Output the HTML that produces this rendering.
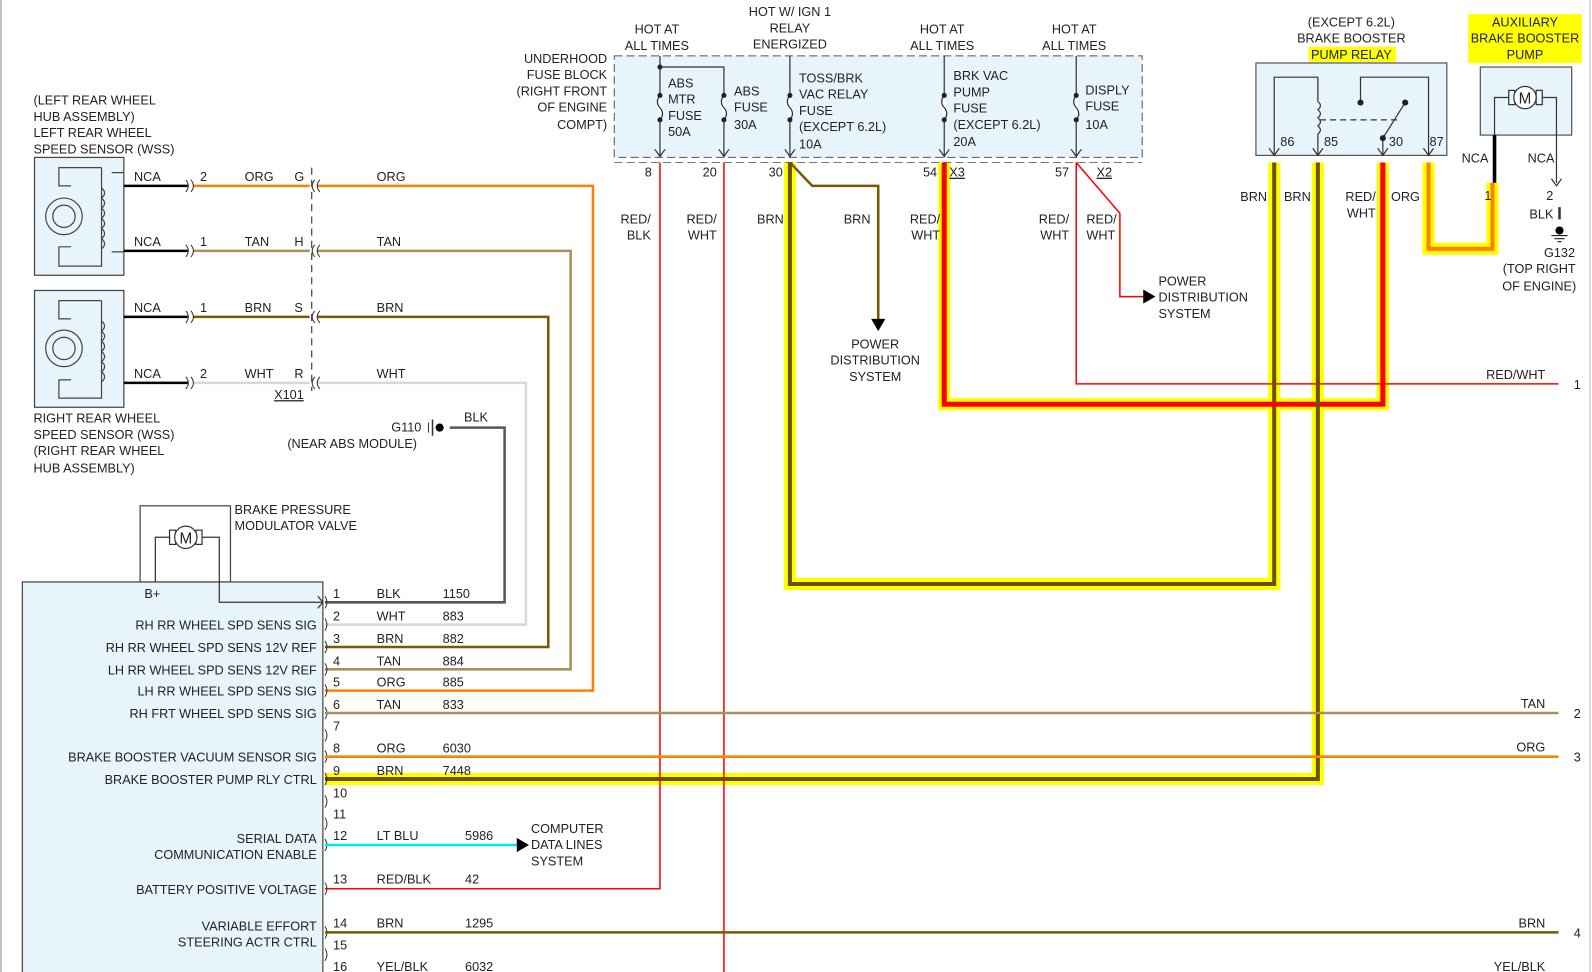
<!DOCTYPE html>
<html><head><meta charset="utf-8"><style>
html,body{margin:0;padding:0;background:#fff;}
svg{display:block;}
text{font-family:"Liberation Sans",sans-serif;font-size:12.5px;fill:#222;}
.r{text-anchor:end}.m{text-anchor:middle}
</style></head><body>
<svg width="1592" height="972" viewBox="0 0 1568 957" preserveAspectRatio="none" xmlns="http://www.w3.org/2000/svg">
<line x1="1" y1="0" x2="1" y2="957" stroke="#888" stroke-width="1"/>
<line x1="1566" y1="0" x2="1566" y2="957" stroke="#bbb" stroke-width="1"/>

<!-- yellow highlights -->
<g fill="none" stroke="#ffff00" stroke-width="12" stroke-linejoin="miter">
<polyline points="778,160 778,575 1255,575 1255,160"/>
<polyline points="930,160 930,398 1362,398 1362,160"/>
<polyline points="320,767 1298,767 1298,160"/>
<polyline points="1407,160 1407,245 1470,245 1470,180"/>
</g>
<rect x="1446" y="14" width="112" height="48" fill="#ffff00"/>
<rect x="1289" y="46" width="86" height="15" fill="#ffff00"/>

<!-- fuse block -->
<rect x="605" y="55" width="520" height="100" fill="#e8f4fc" stroke="#555" stroke-dasharray="8,4"/>
<line x1="605" y1="160" x2="1125" y2="160" stroke="#777" stroke-dasharray="8,4"/>
<g stroke="#333" fill="none" stroke-width="1.2">
<line x1="650" y1="55" x2="650" y2="155"/><polyline points="650,66 713,66 713,155"/>
<line x1="778" y1="55" x2="778" y2="155"/><line x1="930" y1="55" x2="930" y2="155"/><line x1="1060" y1="55" x2="1060" y2="155"/>
<path d="M645,147 l5,7 l5,-7 M708,147 l5,7 l5,-7 M773,147 l5,7 l5,-7 M925,147 l5,7 l5,-7 M1055,147 l5,7 l5,-7"/>
</g>
<g fill="#fff" stroke="#fff" stroke-width="3">
<line x1="650" y1="94" x2="650" y2="118"/><line x1="713" y1="94" x2="713" y2="118"/><line x1="778" y1="94" x2="778" y2="118"/><line x1="930" y1="94" x2="930" y2="118"/><line x1="1060" y1="94" x2="1060" y2="118"/>
</g>
<g stroke="#333" fill="none" stroke-width="1.2">
<path d="M650,94 q-5,6 0,12 q5,6 0,12 M713,94 q-5,6 0,12 q5,6 0,12 M778,94 q-5,6 0,12 q5,6 0,12 M930,94 q-5,6 0,12 q5,6 0,12 M1060,94 q-5,6 0,12 q5,6 0,12"/>
</g>
<g fill="#222"><circle cx="650" cy="66" r="2.5"/><circle cx="650" cy="94" r="2.5"/><circle cx="650" cy="118" r="2.5"/><circle cx="713" cy="94" r="2.5"/><circle cx="713" cy="118" r="2.5"/><circle cx="778" cy="94" r="2.5"/><circle cx="778" cy="118" r="2.5"/><circle cx="930" cy="94" r="2.5"/><circle cx="930" cy="118" r="2.5"/><circle cx="1060" cy="94" r="2.5"/><circle cx="1060" cy="118" r="2.5"/></g>
<text x="658" y="86">ABS</text><text x="658" y="102">MTR</text><text x="658" y="118">FUSE</text><text x="658" y="134">50A</text>
<text x="723" y="94">ABS</text><text x="723" y="110">FUSE</text><text x="723" y="127">30A</text>
<text x="787" y="81">TOSS/BRK</text><text x="787" y="97">VAC RELAY</text><text x="787" y="113">FUSE</text><text x="787" y="129">(EXCEPT 6.2L)</text><text x="787" y="146">10A</text>
<text x="939" y="79">BRK VAC</text><text x="939" y="95">PUMP</text><text x="939" y="111">FUSE</text><text x="939" y="127">(EXCEPT 6.2L)</text><text x="939" y="144">20A</text>
<text x="1069" y="93">DISPLY</text><text x="1069" y="109">FUSE</text><text x="1069" y="127">10A</text>
<text class="m" x="647" y="33">HOT AT</text><text class="m" x="647" y="49">ALL TIMES</text>
<text class="m" x="778" y="16">HOT W/ IGN 1</text><text class="m" x="778" y="32">RELAY</text><text class="m" x="778" y="48">ENERGIZED</text>
<text class="m" x="928" y="33">HOT AT</text><text class="m" x="928" y="49">ALL TIMES</text>
<text class="m" x="1058" y="33">HOT AT</text><text class="m" x="1058" y="49">ALL TIMES</text>
<text class="r" x="598" y="62">UNDERHOOD</text><text class="r" x="598" y="78">FUSE BLOCK</text><text class="r" x="598" y="94">(RIGHT FRONT</text><text class="r" x="598" y="110">OF ENGINE</text><text class="r" x="598" y="127">COMPT)</text>
<text class="r" x="642" y="174">8</text><text class="r" x="706" y="174">20</text><text class="r" x="771" y="174">30</text><text class="r" x="923" y="174">54</text><text x="935" y="174" text-decoration="underline">X3</text><text class="r" x="1053" y="174">57</text><text x="1080" y="174" text-decoration="underline">X2</text>

<!-- wires from fuses -->
<g fill="none" stroke-linejoin="miter">
<polyline points="650,160 650,875 320,875" stroke="#ff0000" stroke-width="1.5"/>
<line x1="713" y1="160" x2="713" y2="957" stroke="#ff0000" stroke-width="1.5"/>
<polyline points="778,160 800,183 865,183 865,315" stroke="#7a5a00" stroke-width="2.5"/>
<polyline points="1060,160 1103,210 1103,292 1128,292" stroke="#ff0000" stroke-width="1.5"/>
<polyline points="1060,160 1060,378 1535,378" stroke="#ff0000" stroke-width="1.5"/>
<polyline points="778,160 778,575 1255,575 1255,160" stroke="#6a5200" stroke-width="4"/>
<polyline points="930,160 930,398 1362,398 1362,160" stroke="#ff0000" stroke-width="5"/>
<polyline points="320,767 1298,767 1298,160" stroke="#6a5200" stroke-width="4"/>
<polyline points="1407,160 1407,245 1470,245 1470,180" stroke="#ff8000" stroke-width="4"/>
</g>
<polygon points="858,314 872,314 865,326" fill="#000"/>
<polygon points="1126,285 1138,292 1126,299" fill="#000"/>
<text class="m" x="862" y="343">POWER</text><text class="m" x="862" y="359">DISTRIBUTION</text><text class="m" x="862" y="375">SYSTEM</text>
<text x="1141" y="281">POWER</text><text x="1141" y="297">DISTRIBUTION</text><text x="1141" y="313">SYSTEM</text>
<text class="r" x="641" y="220">RED/</text><text class="r" x="641" y="236">BLK</text>
<text class="r" x="706" y="220">RED/</text><text class="r" x="706" y="236">WHT</text>
<text class="r" x="772" y="220">BRN</text><text x="831" y="220">BRN</text>
<text class="r" x="926" y="220">RED/</text><text class="r" x="926" y="236">WHT</text>
<text class="r" x="1053" y="220">RED/</text><text class="r" x="1053" y="236">WHT</text>
<text x="1070" y="220">RED/</text><text x="1070" y="236">WHT</text>
<text class="r" x="1522" y="373">RED/WHT</text><text x="1550" y="383">1</text>

<!-- relay -->
<text class="m" x="1331" y="26">(EXCEPT 6.2L)</text><text class="m" x="1331" y="42">BRAKE BOOSTER</text><text class="m" x="1331" y="58">PUMP RELAY</text>
<rect x="1237" y="62" width="188" height="91" fill="#e8f4fc" stroke="#555" stroke-width="1.2"/>
<g stroke="#333" fill="none" stroke-width="1.2">
<polyline points="1255,153 1255,76 1298,76 1298,100"/>
<path d="M1298,100 q5,4 0,8 q5,4 0,8 q5,4 0,8 q5,4 0,8 L1298,153"/>
<line x1="1300" y1="118" x2="1380" y2="118" stroke-dasharray="6,4"/>
<polyline points="1340,100 1340,76 1407,76 1407,153"/>
<line x1="1362" y1="136" x2="1384" y2="101"/><line x1="1362" y1="136" x2="1362" y2="153"/>
<path d="M1250,146 l5,7 l5,-7 M1293,146 l5,7 l5,-7 M1357,146 l5,7 l5,-7 M1402,146 l5,7 l5,-7"/>
</g>
<g fill="#222"><circle cx="1340" cy="101" r="3"/><circle cx="1384" cy="101" r="3"/><circle cx="1362" cy="136" r="3"/></g>
<text x="1261" y="144">86</text><text x="1304" y="144">85</text><text x="1368" y="144">30</text><text x="1408" y="144">87</text>
<text class="r" x="1248" y="198">BRN</text><text class="r" x="1291" y="198">BRN</text>
<text class="r" x="1355" y="198">RED/</text><text class="r" x="1355" y="214">WHT</text><text x="1370" y="198">ORG</text>

<!-- pump -->
<text class="m" x="1502" y="26">AUXILIARY</text><text class="m" x="1502" y="42">BRAKE BOOSTER</text><text class="m" x="1502" y="58">PUMP</text>
<rect x="1458" y="66" width="90" height="67" fill="#e8f4fc" stroke="#555" stroke-width="1.2"/>
<g stroke="#333" fill="none" stroke-width="1.2">
<polyline points="1472,133 1472,96 1486,96"/><polyline points="1533,180 1533,96 1519,96"/>
<rect x="1486" y="89" width="6" height="14"/><rect x="1513" y="89" width="6" height="14"/>
<circle cx="1502" cy="96" r="11" fill="#fff"/>
<path d="M1528,176 l5,7 l5,-7"/>
</g>
<text class="m" x="1502" y="102" style="font-size:15px">M</text>
<line x1="1472" y1="133" x2="1472" y2="180" stroke="#000" stroke-width="3.5"/>
<text class="r" x="1466" y="160">NCA</text><text class="r" x="1531" y="160">NCA</text>
<text x="1462" y="197">1</text><text x="1523" y="197">2</text>
<line x1="1536" y1="204" x2="1536" y2="216" stroke="#333" stroke-width="2.5"/>
<text class="r" x="1530" y="215">BLK</text>
<circle cx="1536" cy="227" r="4" fill="#000"/><line x1="1528" y1="232" x2="1544" y2="232" stroke="#000"/><line x1="1531" y1="235" x2="1541" y2="235" stroke="#000"/><line x1="1534" y1="238" x2="1538" y2="238" stroke="#000"/>
<text class="m" x="1536" y="253">G132</text><text class="m" x="1516" y="269">(TOP RIGHT</text><text class="m" x="1516" y="286">OF ENGINE)</text>

<!-- sensors -->
<text x="33" y="103">(LEFT REAR WHEEL</text><text x="33" y="119">HUB ASSEMBLY)</text><text x="33" y="135">LEFT REAR WHEEL</text><text x="33" y="151">SPEED SENSOR (WSS)</text>
<text x="33" y="416">RIGHT REAR WHEEL</text><text x="33" y="432">SPEED SENSOR (WSS)</text><text x="33" y="448">(RIGHT REAR WHEEL</text><text x="33" y="465">HUB ASSEMBLY)</text>
<g stroke="#444" fill="#e8f4fc" stroke-width="1.2">
<rect x="34" y="155" width="88" height="116"/><rect x="34" y="286" width="88" height="115"/>
</g>
<g stroke="#444" fill="none" stroke-width="1.2">
<path d="M122,170 L110,170 M122,248 L110,248"/>
<path d="M100,165 L58,165 L58,183 L70,183 M70,243 L58,243 L58,262 L100,262 L100,165 M100,185 q6,5 0,10 q6,5 0,10 q6,5 0,10 q6,5 0,10 q6,5 0,10 q6,5 0,10"/>
<circle cx="63" cy="213" r="18"/><circle cx="63" cy="213" r="11"/>
<path d="M100,296 L58,296 L58,314 L70,314 M70,374 L58,374 L58,392 L100,392 L100,296 M100,316 q6,5 0,10 q6,5 0,10 q6,5 0,10 q6,5 0,10 q6,5 0,10 q6,5 0,10"/>
<circle cx="63" cy="343" r="18"/><circle cx="63" cy="343" r="11"/>
<line x1="307" y1="165" x2="307" y2="385" stroke-dasharray="7,5"/>
</g>
<g stroke-width="2.5" fill="none">
<line x1="122" y1="183" x2="185" y2="183" stroke="#000"/><line x1="190" y1="183" x2="305" y2="183" stroke="#ff8000"/><polyline points="312,183 584,183 584,680 320,680" stroke="#ff8000"/>
<line x1="122" y1="247" x2="185" y2="247" stroke="#000"/><line x1="190" y1="247" x2="305" y2="247" stroke="#a89060"/><polyline points="312,247 562,247 562,659 320,659" stroke="#a89060"/>
<line x1="122" y1="312" x2="185" y2="312" stroke="#000"/><line x1="190" y1="312" x2="305" y2="312" stroke="#7a5a00"/><polyline points="312,312 540,312 540,637 320,637" stroke="#7a5a00"/>
<line x1="122" y1="377" x2="185" y2="377" stroke="#000"/><line x1="190" y1="377" x2="305" y2="377" stroke="#d8d8d8"/><polyline points="312,377 518,377 518,615 320,615" stroke="#d8d8d8"/>
<polyline points="443,421 497,421 497,593 320,593" stroke="#555"/>
</g>
<g stroke="#333" fill="none" stroke-width="1">
<path d="M183,177 q5,6 0,12 M188,177 q5,6 0,12 M183,241 q5,6 0,12 M188,241 q5,6 0,12 M183,306 q5,6 0,12 M188,306 q5,6 0,12 M183,371 q5,6 0,12 M188,371 q5,6 0,12"/>
<path d="M310,177 q-5,6 0,12 M315,177 q-5,6 0,12 M310,241 q-5,6 0,12 M315,241 q-5,6 0,12 M310,306 q-5,6 0,12 M315,306 q-5,6 0,12 M310,371 q-5,6 0,12 M315,371 q-5,6 0,12"/>
</g>
<text x="132" y="178">NCA</text><text x="132" y="242">NCA</text><text x="132" y="307">NCA</text><text x="132" y="372">NCA</text>
<text x="197" y="178">2</text><text x="197" y="242">1</text><text x="197" y="307">1</text><text x="197" y="372">2</text>
<text x="241" y="178">ORG</text><text x="241" y="242">TAN</text><text x="241" y="307">BRN</text><text x="241" y="372">WHT</text>
<text x="290" y="178">G</text><text x="290" y="242">H</text><text x="290" y="307">S</text><text x="290" y="372">R</text>
<text x="371" y="178">ORG</text><text x="371" y="242">TAN</text><text x="371" y="307">BRN</text><text x="371" y="372">WHT</text>
<text x="270" y="393" text-decoration="underline">X101</text>
<text class="r" x="415" y="425">G110</text><line x1="422" y1="416" x2="422" y2="426" stroke="#333"/><line x1="426" y1="413" x2="426" y2="429" stroke="#333" stroke-width="1.5"/><circle cx="433" cy="421" r="4" fill="#000"/>
<text x="457" y="415">BLK</text><text x="283" y="441">(NEAR ABS MODULE)</text>

<!-- modulator valve -->
<rect x="138" y="498" width="89" height="75" fill="#fff" stroke="#444" stroke-width="1.2"/>
<text x="231" y="506">BRAKE PRESSURE</text><text x="231" y="522">MODULATOR VALVE</text>

<!-- module -->
<rect x="22" y="573" width="296" height="390" fill="#e8f4fc" stroke="#444" stroke-width="1.2"/>
<g stroke="#333" fill="none" stroke-width="1.2">
<polyline points="153,573 153,529 167,529"/><polyline points="199,529 216,529 216,593 318,593"/>
<rect x="167" y="522" width="6" height="14"/><rect x="193" y="522" width="6" height="14"/>
<circle cx="183" cy="529" r="11" fill="#fff"/>
<path d="M313,587 l5,6 l-5,6"/>
</g>
<text class="m" x="183" y="535" style="font-size:15px">M</text>
<text class="m" x="150" y="589">B+</text>
<g stroke="#333" fill="none" stroke-width="1">
<path d="M320,587 q4,6 0,12 M320,609 q4,6 0,12 M320,631 q4,6 0,12 M320,653 q4,6 0,12 M320,674 q4,6 0,12 M320,696 q4,6 0,12 M320,718 q4,6 0,12 M320,739 q4,6 0,12 M320,761 q4,6 0,12 M320,783 q4,6 0,12 M320,805 q4,6 0,12 M320,826 q4,6 0,12 M320,869 q4,6 0,12 M320,912 q4,6 0,12 M320,934 q4,6 0,12"/>
</g>
<g>
<text x="328" y="589">1</text><text x="371" y="589">BLK</text><text x="436" y="589">1150</text>
<text x="328" y="611">2</text><text x="371" y="611">WHT</text><text x="436" y="611">883</text>
<text x="328" y="633">3</text><text x="371" y="633">BRN</text><text x="436" y="633">882</text>
<text x="328" y="655">4</text><text x="371" y="655">TAN</text><text x="436" y="655">884</text>
<text x="328" y="676">5</text><text x="371" y="676">ORG</text><text x="436" y="676">885</text>
<text x="328" y="698">6</text><text x="371" y="698">TAN</text><text x="436" y="698">833</text>
<text x="328" y="719">7</text>
<text x="328" y="741">8</text><text x="371" y="741">ORG</text><text x="436" y="741">6030</text>
<text x="328" y="763">9</text><text x="371" y="763">BRN</text><text x="436" y="763">7448</text>
<text x="328" y="785">10</text><text x="328" y="806">11</text>
<text x="328" y="827">12</text><text x="371" y="827">LT BLU</text><text x="458" y="827">5986</text>
<text x="328" y="870">13</text><text x="371" y="870">RED/BLK</text><text x="458" y="870">42</text>
<text x="328" y="913">14</text><text x="371" y="913">BRN</text><text x="458" y="913">1295</text>
<text x="328" y="935">15</text>
<text x="328" y="956">16</text><text x="371" y="956">YEL/BLK</text><text x="458" y="956">6032</text>
</g>
<g>
<text class="r" x="312" y="620">RH RR WHEEL SPD SENS SIG</text>
<text class="r" x="312" y="642">RH RR WHEEL SPD SENS 12V REF</text>
<text class="r" x="312" y="664">LH RR WHEEL SPD SENS 12V REF</text>
<text class="r" x="312" y="685">LH RR WHEEL SPD SENS SIG</text>
<text class="r" x="312" y="707">RH FRT WHEEL SPD SENS SIG</text>
<text class="r" x="312" y="750">BRAKE BOOSTER VACUUM SENSOR SIG</text>
<text class="r" x="312" y="772">BRAKE BOOSTER PUMP RLY CTRL</text>
<text class="r" x="312" y="830">SERIAL DATA</text>
<text class="r" x="312" y="846">COMMUNICATION ENABLE</text>
<text class="r" x="312" y="880">BATTERY POSITIVE VOLTAGE</text>
<text class="r" x="312" y="916">VARIABLE EFFORT</text>
<text class="r" x="312" y="932">STEERING ACTR CTRL</text>
</g>
<g stroke-width="2.5">
<line x1="320" y1="702" x2="1535" y2="702" stroke="#a89060"/>
<line x1="320" y1="745" x2="1535" y2="745" stroke="#ff8000"/>
<line x1="320" y1="918" x2="1535" y2="918" stroke="#7a5a00"/>
<line x1="320" y1="832" x2="510" y2="832" stroke="#00e5ff"/>
</g>
<polygon points="509,825 521,832 509,839" fill="#000"/>
<text x="523" y="820">COMPUTER</text><text x="523" y="836">DATA LINES</text><text x="523" y="852">SYSTEM</text>
<text class="r" x="1522" y="697">TAN</text><text x="1550" y="707">2</text>
<text class="r" x="1522" y="740">ORG</text><text x="1550" y="750">3</text>
<text class="r" x="1522" y="913">BRN</text><text x="1550" y="923">4</text>
<text class="r" x="1522" y="956">YEL/BLK</text>
</svg>
</body></html>
